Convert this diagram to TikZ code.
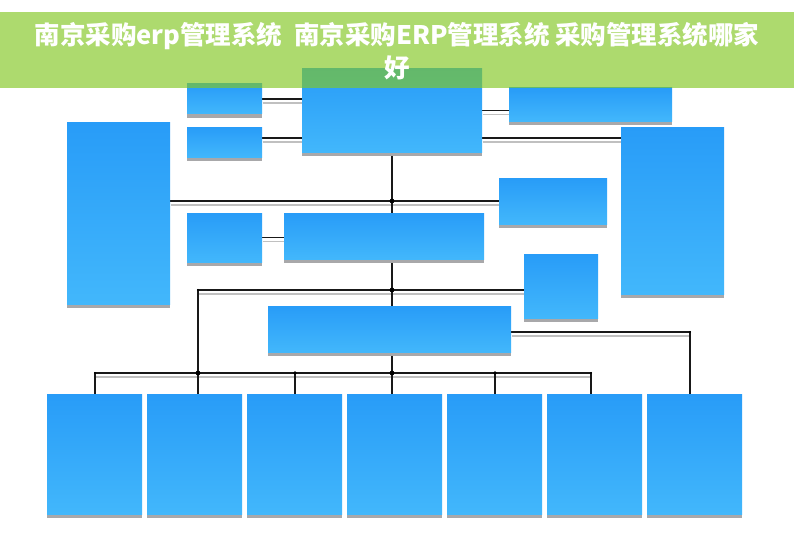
\documentclass[tikz,border=0pt]{standalone}
\usepackage{fontspec}
\newfontfamily\cjk{Noto Sans CJK SC}
\usetikzlibrary{shadows}
\definecolor{boxtop}{RGB}{40,156,248}
\definecolor{boxbot}{RGB}{66,183,251}
\definecolor{boxshadow}{RGB}{168,168,170}
\definecolor{linegray}{RGB}{192,192,192}
\definecolor{bannerc}{RGB}{131,200,35}
\pgfdeclarelayer{bg}
\pgfsetlayers{bg,main}
\newcommand\diagramlinks{%
  \draw[cn] (A1.east) -- (A1.east -| T.west);
  \draw[cn] ([yshift=4pt]A2.east) -- ([yshift=4pt]A2.east -| T.west);
  \draw[cn] (T.east) -- (T.east -| R1.west);
  \draw[cn] ([yshift=-27.5pt]T.east) -- ([yshift=-27.5pt]T.east -| R2.west);
  \draw[cn] (T.south) -- (T.south |- C2.north);
  \draw[cn] (L.east |- M1.west) -- (M1.west);
  \draw[cn] (A3.east) -- (A3.east -| C2.west);
  \draw[cn] (T.south |- C2.south) -- (T.south |- C3.north);
  \draw[cn] (jl -| M2.west) -- (jl) -- (jl |- B2.north);
  \draw[cn] (T.south |- C3.south) -- (T.south |- B4.north);
  \draw[cn] (bl |- B1.north) -- (bl) -- (br) -- (br |- B6.north);
  \draw[cn] (b3) -- (b3 |- B3.north);
  \draw[cn] (b5) -- (b5 |- B5.north);
  \draw[cn] (rc -| C3.east) -- (rc) -- (rc |- B7.north);
}
\begin{document}
\begin{tikzpicture}[x=1pt,y=-1pt,
  box/.style={anchor=north west, inner sep=0pt, outer sep=0pt, draw=none,
    top color=boxtop, bottom color=boxbot,
    drop shadow={shadow xshift=0pt, shadow yshift=-4pt, fill=boxshadow, opacity=1}},
  dotbig/.style={fill=black},
]
\useasboundingbox (0,0) rectangle (794,559);
% boxes
\node[box, minimum width=103pt, minimum height=182pt] (L) at (67,122) {};
\node[box, minimum width=75pt, minimum height=30pt] (A1) at (187,84) {};
\node[box, minimum width=75pt, minimum height=30pt] (A2) at (187,127) {};
\node[box, minimum width=180pt, minimum height=83pt] (T) at (302,69) {};
\node[box, minimum width=163pt, minimum height=33pt] (R1) at (509,88) {};
\node[box, minimum width=103pt, minimum height=167pt] (R2) at (621,127) {};
\node[box, minimum width=108pt, minimum height=46pt] (M1) at (499,178) {};
\node[box, minimum width=74pt, minimum height=64pt] (M2) at (524,254) {};
\node[box, minimum width=75pt, minimum height=49pt] (A3) at (187,213) {};
\node[box, minimum width=200pt, minimum height=46pt] (C2) at (284,213) {};
\node[box, minimum width=243pt, minimum height=46pt] (C3) at (268,306) {};
\foreach \i/\x in {1/47,2/147,3/247,4/347,5/447,6/547,7/647}
  \node[box, minimum width=95pt, minimum height=120pt] (B\i) at (\x,394) {};
% junction coordinates
\coordinate (jl) at (198,290);
\coordinate (bl) at (95,373);
\coordinate (br) at (591,373);
\coordinate (b3) at (295,373);
\coordinate (b5) at (495,373);
\coordinate (rc) at (690,332);
% connectors
\begin{pgfonlayer}{bg}
  \fill[white] (0,0) rectangle (794,559);
  \begin{scope}[transform canvas={xshift=0.6pt,yshift=-4pt},
      cn/.style={draw=linegray, line width=1.5pt}]
    \diagramlinks
  \end{scope}
  \begin{scope}[cn/.style={draw=black!90, line width=1.3pt}]
    \diagramlinks
  \end{scope}
  \fill (T.south |- M1.west) circle (2.4pt);
  \fill (T.south |- jl) circle (2.4pt);
  \fill (jl |- bl) circle (2.4pt);
  \fill (T.south |- bl) circle (2.4pt);
  \fill (b3) circle (1.8pt);
  \fill (b5) circle (1.8pt);
  \fill (bl) circle (1.2pt);
  \fill (br) circle (1.2pt);
  \fill (jl) circle (1.2pt);
  \fill (rc) circle (1.2pt);
\end{pgfonlayer}
% banner
\fill[bannerc, fill opacity=0.66] (0,12) rectangle (794,88);
\node[text=white, font=\cjk\bfseries\fontsize{25.5}{33}\selectfont, align=center, inner sep=0pt] (title) at (397,51.5)
  {南京采购erp管理系统 \ 南京采购ERP管理系统 采购管理系统哪家\\好};
\end{tikzpicture}
\end{document}
